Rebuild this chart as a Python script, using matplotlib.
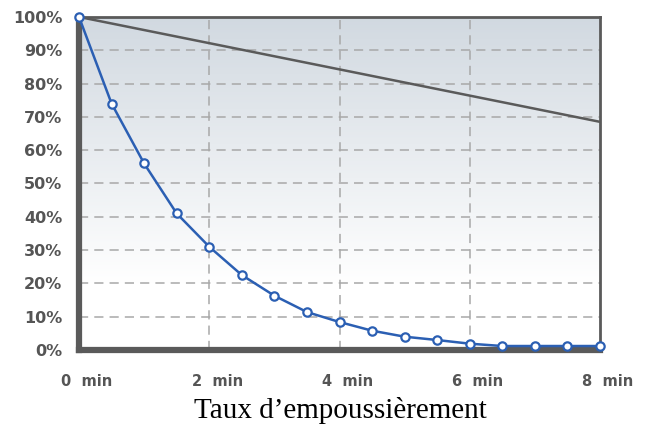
import numpy as np
import matplotlib.pyplot as plt
import matplotlib.transforms as mtransforms

minutes = [0, 0.5, 1, 1.5, 2, 2.5, 3, 3.5, 4, 4.5, 5, 5.5, 6, 6.5, 7, 7.5, 8]
dust = [100, 74, 56, 41, 31, 22.5, 16.3, 11.4, 8.4, 5.8, 4.0, 3.0, 1.9, 1.2, 1.2, 1.2, 1.2]
ref_x = [0, 8]
ref_y = [100, 68.5]

xticks = [0, 2, 4, 6, 8]
xlabels = ["0  min", "2  min", "4  min", "6  min", "8  min"]
yticks = [0, 10, 20, 30, 40, 50, 60, 70, 80, 90, 100]
ylabels = ["%d%%" % v for v in yticks]

fig = plt.figure(figsize=(6.48, 4.34), dpi=100)
ax = fig.add_axes([0.1219, 0.1935, 0.8041, 0.7675])

# background gradient, grey-blue on top fading to white
grad = np.linspace(0, 1, 256).reshape(-1, 1)
top = np.array([0.82, 0.85, 0.88])
white = np.array([1.0, 1.0, 1.0])
t = np.clip(grad / 0.8, 0, 1)
img = top * (1 - t) + white * t
img = img.reshape(256, 1, 3)
ax.imshow(img, extent=[0, 8, 0, 100], origin="upper", aspect="auto", zorder=0)

ax.set_xlim(0, 8)
ax.set_ylim(0, 100)

for v in yticks[1:-1]:
    ax.axhline(v, color="#a8a8a8", lw=1.1, dashes=(6, 4), zorder=1)
for v in xticks[1:-1]:
    ax.axvline(v, color="#a8a8a8", lw=1.1, dashes=(6, 4), zorder=1)

ax.plot(ref_x, ref_y, color="#5a5a5a", lw=1.8, zorder=2)
ax.plot(minutes, dust, color="#2b5fb3", lw=1.8, marker="o", ms=6,
        mfc="white", mec="#2b5fb3", mew=1.6, zorder=4, clip_on=False)

for s in ["left", "bottom"]:
    ax.spines[s].set_linewidth(4.5)
    ax.spines[s].set_color("#5a5a5a")
for s in ["top", "right"]:
    ax.spines[s].set_linewidth(2)
    ax.spines[s].set_color("#5a5a5a")

ax.set_yticks(yticks)
ax.set_yticklabels(ylabels, fontsize=11.5, fontweight="bold", color="#555555")
ax.set_xticks(xticks)
ax.set_xticklabels(xlabels, fontsize=10.5, fontweight="bold", color="#555555")
ax.tick_params(axis="both", length=0)
ax.tick_params(axis="y", pad=12)
ax.tick_params(axis="x", pad=17)
shift = mtransforms.ScaledTranslation(8 / 100, 0, fig.dpi_scale_trans)
for lab in ax.get_xticklabels():
    lab.set_transform(lab.get_transform() + shift)

fig.text(0.525, 0.055, "Taux d\u2019empoussièrement", ha="center", va="center",
         fontsize=21, family="Liberation Serif", color="black")

fig.savefig("out.png", dpi=100)
